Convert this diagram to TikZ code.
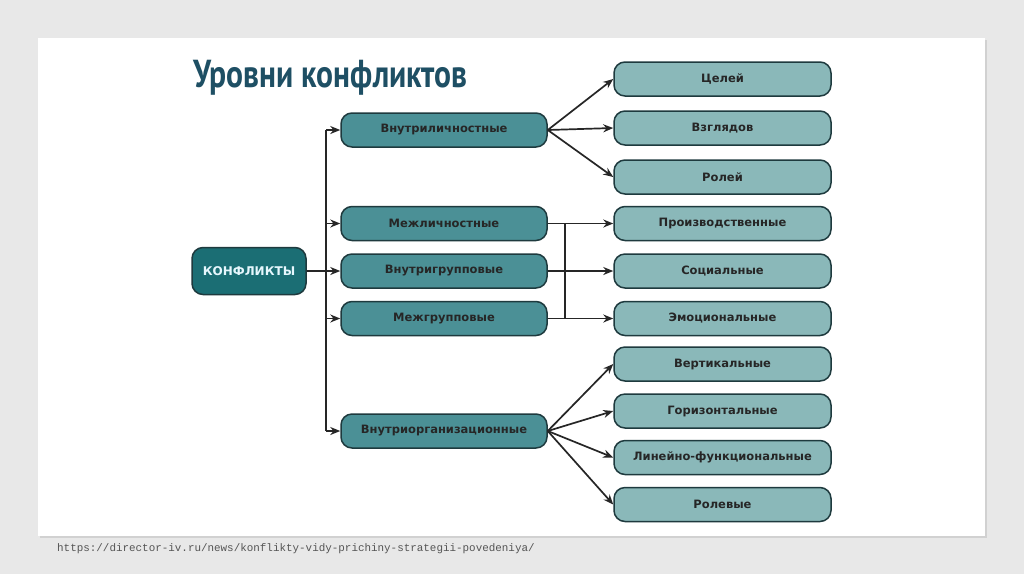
\documentclass[tikz,border=0pt]{standalone}
\usepackage{fontspec}
\usepackage{graphicx}
\setmainfont{DejaVu Sans}
\newfontfamily\titlefont{PT Sans}
\newfontfamily\boxfont{DejaVu Sans}
\newfontfamily\urlfont{Liberation Mono}
\usetikzlibrary{arrows.meta,shadows}
\definecolor{bg}{HTML}{E8E8E8}
\definecolor{titlec}{HTML}{1E4F64}
\definecolor{darkbox}{HTML}{1B6E74}
\definecolor{midbox}{HTML}{4B9096}
\definecolor{lightbox}{HTML}{8AB8B9}
\definecolor{edgec}{HTML}{1E3A3E}
\definecolor{urlc}{HTML}{555555}
\tikzset{
  base/.style={draw=edgec, line width=1.5pt, rounded corners=11pt, inner sep=0pt,
    minimum height=34pt, font=\boxfont\bfseries\fontsize{11.5}{13}\selectfont, text=black!85},
  rootbox/.style={base, fill=darkbox, minimum width=114pt, minimum height=47pt, text=cyan!10!white,
    font=\boxfont\bfseries\fontsize{12}{14}\selectfont},
  midstyle/.style={base, fill=midbox, minimum width=206pt},
  leafbox/.style={base, fill=lightbox, minimum width=217pt},
  conn/.style={line width=1.7pt, draw=black!85},
  arr/.style={conn, -{Stealth[length=10pt,width=8pt]}}
}
\begin{document}
\begin{tikzpicture}[x=1pt,y=-1pt]
\useasboundingbox (0,0) rectangle (1024,574);
\fill[bg] (0,0) rectangle (1024,574);
\fill[black!18] (40,40) rectangle (987,538);
\fill[white] (38,38) rectangle (985,536);
\node[anchor=west, text=titlec, inner sep=0pt] (title) at (193,78)
  {\scalebox{0.81}[1]{\titlefont\bfseries\fontsize{39}{44}\selectfont Уровни конфликтов}};
\node[anchor=west, text=urlc, inner sep=0pt] (url) at (57,549)
  {\urlfont\fontsize{10.9}{13}\selectfont https://director-iv.ru/news/konflikty-vidy-prichiny-strategii-povedeniya/};

\node[rootbox] (k) at (249,271) {КОНФЛИКТЫ};

\node[midstyle] (m1) at (444,130) {Внутриличностные};
\node[midstyle] (m2) at (444,223.5) {Межличностные};
\node[midstyle] (m3) at (444,271) {Внутригрупповые};
\node[midstyle] (m4) at (444,318.5) {Межгрупповые};
\node[midstyle] (m5) at (444,431) {Внутриорганизационные};

\node[leafbox] (r1) at (722.5,79) {Целей};
\node[leafbox] (r2) at (722.5,128) {Взглядов};
\node[leafbox] (r3) at (722.5,177) {Ролей};
\node[leafbox] (r4) at (722.5,223.5) {Производственные};
\node[leafbox] (r5) at (722.5,271) {Социальные};
\node[leafbox] (r6) at (722.5,318.5) {Эмоциональные};
\node[leafbox] (r7) at (722.5,364) {Вертикальные};
\node[leafbox] (r8) at (722.5,411) {Горизонтальные};
\node[leafbox] (r9) at (722.5,457.5) {Линейно-функциональные};
\node[leafbox] (r10) at (722.5,504.5) {Ролевые};

\coordinate (tx) at (326,0);
\coordinate (bx) at (565,0);

\draw[conn] (m1.west -| tx) -- (m5.west -| tx);
\draw[arr] (k.east) -- (m3.west);
\foreach \m in {m1,m2,m4,m5} \draw[arr] (\m.west -| tx) -- (\m.west);

\foreach \r in {r1,r2,r3} \draw[arr] (m1.east) -- (\r.west);
\foreach \r in {r7,r8,r9,r10} \draw[arr] (m5.east) -- (\r.west);

\draw[conn] (m2.east -| bx) -- (m4.east -| bx);
\draw[arr] (m2.east) -- (r4.west);
\draw[arr] (m3.east) -- (r5.west);
\draw[arr] (m4.east) -- (r6.west);
\end{tikzpicture}
\end{document}
